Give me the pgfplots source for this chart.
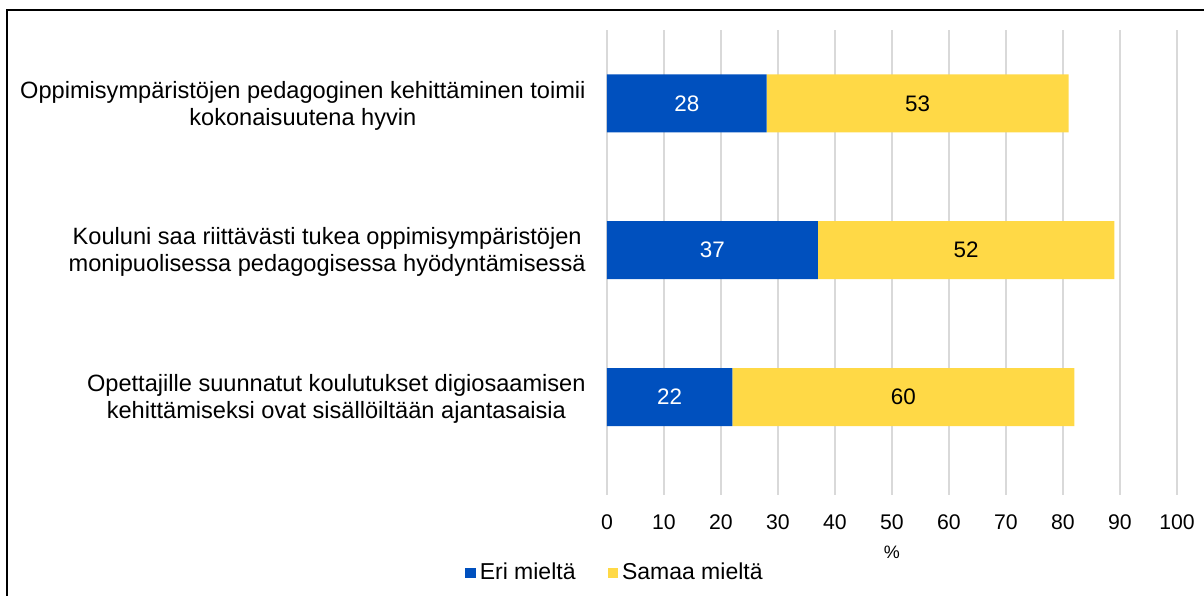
\documentclass[border=0pt]{standalone}
\usepackage{pgfplots}
\pgfplotsset{compat=1.18}
\usepackage{fontspec}
\setmainfont{Liberation Sans}
\definecolor{eriblue}{RGB}{0,80,190}
\definecolor{samyellow}{RGB}{255,217,70}
\definecolor{gridgray}{RGB}{217,217,217}
\begin{document}
\begin{tikzpicture}
\useasboundingbox (-303.5pt,-50pt) rectangle (298.5pt,247.5pt);
\draw[line width=1pt] (-300pt,-60pt) -- (-300pt,242.5pt) -- (305pt,242.5pt);
\begin{axis}[
    at={(0pt,0pt)}, anchor=south west,
    scale only axis,
    width=285pt, height=232.5pt,
    xbar stacked,
    bar width=29pt,
    xmin=0, xmax=100,
    ymin=0.5, ymax=3.667,
    y dir=reverse,
    xtick={0,10,...,100},
    ytick={1,2,3},
    yticklabels={{Oppimisympäristöjen pedagoginen kehittäminen toimii\\kokonaisuutena hyvin},
                 {Kouluni saa riittävästi tukea oppimisympäristöjen\\monipuolisessa pedagogisessa hyödyntämisessä},
                 {Opettajille suunnatut koulutukset digiosaamisen\\kehittämiseksi ovat sisällöiltään ajantasaisia}},
    yticklabel style={align=center, anchor=east, inner sep=0pt, xshift=-10.5pt, yshift=-1pt, font=\fontsize{11.8}{13.5}\selectfont},
    xticklabel style={anchor=center, yshift=-13.5pt, font=\fontsize{10.6}{12}\selectfont},
    /pgf/number format/assume math mode=true,
    major tick length=0pt,
    axis line style={draw=none},
    xmajorgrids,
    grid style={gridgray, line width=1pt},
    xlabel={\%},
    xlabel style={at={(axis description cs:0.5,0)}, anchor=center, yshift=-28.5pt, font=\fontsize{9}{10}\selectfont},
    legend style={at={(axis description cs:0.0158,-0.168)}, anchor=center, draw=none,
        font=\fontsize{11.5}{13}\selectfont, /tikz/every even column/.append style={column sep=14pt}},
    legend columns=2,
    legend image code/.code={\fill[#1] (0pt,-2.6pt) rectangle (5.2pt,2.6pt);},
    visualization depends on=rawx \as \rawx,
    nodes near coords={\pgfmathprintnumber{\rawx}},
    every node near coord/.append style={anchor=center, font=\fontsize{11.2}{13}\selectfont},
]
\addplot[fill=eriblue, draw=none, nodes near coords style={white}] coordinates {(28,1) (37,2) (22,3)};
\addplot[fill=samyellow, draw=none, nodes near coords style={black}] coordinates {(53,1) (52,2) (60,3)};
\legend{Eri mieltä, Samaa mieltä}
\end{axis}
\end{tikzpicture}
\end{document}
